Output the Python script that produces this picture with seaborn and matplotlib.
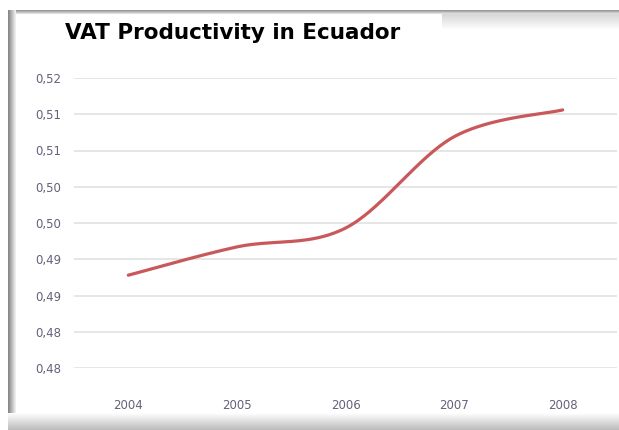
import numpy as np
import pandas as pd
import seaborn as sns
import matplotlib
matplotlib.use("Agg")
import matplotlib.pyplot as plt

# --- data -------------------------------------------------------------
years = ["2004", "2005", "2006", "2007", "2008"]
productivity = [0.4928, 0.4967, 0.4993, 0.5119, 0.5156]

y_ticks = [0.480, 0.485, 0.490, 0.495, 0.500, 0.505, 0.510, 0.515, 0.520]
y_tick_labels = ["0,48", "0,48", "0,49", "0,49", "0,50", "0,50", "0,51", "0,51", "0,52"]

title = "VAT Productivity in Ecuador"


def smooth_curve(xs, ys, n=60):
    """Bezier smoothing through every point (spreadsheet-style smoothed line)."""
    xs = np.asarray(xs, float)
    ys = np.asarray(ys, float)
    pts = np.column_stack([xs, ys])
    out = []
    for i in range(len(pts) - 1):
        p0 = pts[i - 1] if i > 0 else pts[i]
        p1 = pts[i]
        p2 = pts[i + 1]
        p3 = pts[i + 2] if i + 2 < len(pts) else pts[i + 1]
        c1 = p1 + (p2 - p0) / 6.0
        c2 = p2 - (p3 - p1) / 6.0
        t = np.linspace(0, 1, n)[:, None]
        seg = ((1 - t) ** 3) * p1 + 3 * ((1 - t) ** 2) * t * c1 \
            + 3 * (1 - t) * t ** 2 * c2 + t ** 3 * p2
        out.append(seg if i == 0 else seg[1:])
    arr = np.vstack(out)
    return arr[:, 0], arr[:, 1]


sns.set_theme(style="white")
plt.rcParams["font.family"] = ["DejaVu Sans"]

W, H = 619, 430
fig = plt.figure(figsize=(W / 100, H / 100), dpi=100)
fig.patch.set_facecolor("white")

# --- frame around the chart ------------------------------------------
bg = fig.add_axes([0, 0, 1, 1], zorder=-1)
bg.axis("off")


def gradient(ax, x0, x1, y0, y1, c_start, c_end, horizontal=True):
    n = 64
    g = np.linspace(0, 1, n)
    c0 = np.array(matplotlib.colors.to_rgb(c_start))
    c1 = np.array(matplotlib.colors.to_rgb(c_end))
    cols = c0[None, :] * (1 - g[:, None]) + c1[None, :] * g[:, None]
    img = cols[None, :, :] if horizontal else cols[:, None, :]
    ax.imshow(img, extent=(x0, x1, y1, y0), aspect="auto", interpolation="bilinear")


gradient(bg, 442, 619, 12, 30, "#d2d2d2", "#ffffff", horizontal=False)
gradient(bg, 8, 619, 10, 14, "#8e8e8e", "#e8e8e8", horizontal=False)
gradient(bg, 8, 16, 10, 430, "#808080", "#f6f6f6", horizontal=True)
gradient(bg, 8, 619, 413, 430, "#ffffff", "#bcbcbc", horizontal=False)
bg.set_xlim(0, W)
bg.set_ylim(H, 0)

fig.text(65 / W, 1 - 33 / H, title, fontsize=15.5, fontweight="bold",
         color="black", ha="left", va="center")

# --- plot area --------------------------------------------------------
ax = fig.add_axes([74 / W, 1 - 368 / H, (617 - 74) / W, (368 - 78) / H])
ax.patch.set_alpha(0)

pos = np.arange(len(years))
sx, sy = smooth_curve(pos, productivity)
curve = pd.DataFrame({"x": sx, "y": sy})
sns.lineplot(data=curve, x="x", y="y", ax=ax, color="#c9585a", linewidth=2.3,
             sort=False, estimator=None)

ax.set_xlim(-0.5, len(years) - 0.5)
ax.set_ylim(y_ticks[0], y_ticks[-1])
ax.set_xticks(pos)
ax.set_xticklabels(years)
ax.set_yticks(y_ticks)
ax.set_yticklabels(y_tick_labels)
ax.set_xlabel("")
ax.set_ylabel("")

for v in y_ticks:
    ax.axhline(v, color="#e4e4e4", linewidth=1.3, zorder=0)

for s in ax.spines.values():
    s.set_visible(False)
ax.tick_params(axis="y", length=0, pad=9, labelsize=8.5, labelcolor="#62627a")
ax.tick_params(axis="x", length=0, pad=22, labelsize=8.5, labelcolor="#62627a")
ax.grid(False)

fig.savefig("out.png", dpi=100, facecolor="white")
